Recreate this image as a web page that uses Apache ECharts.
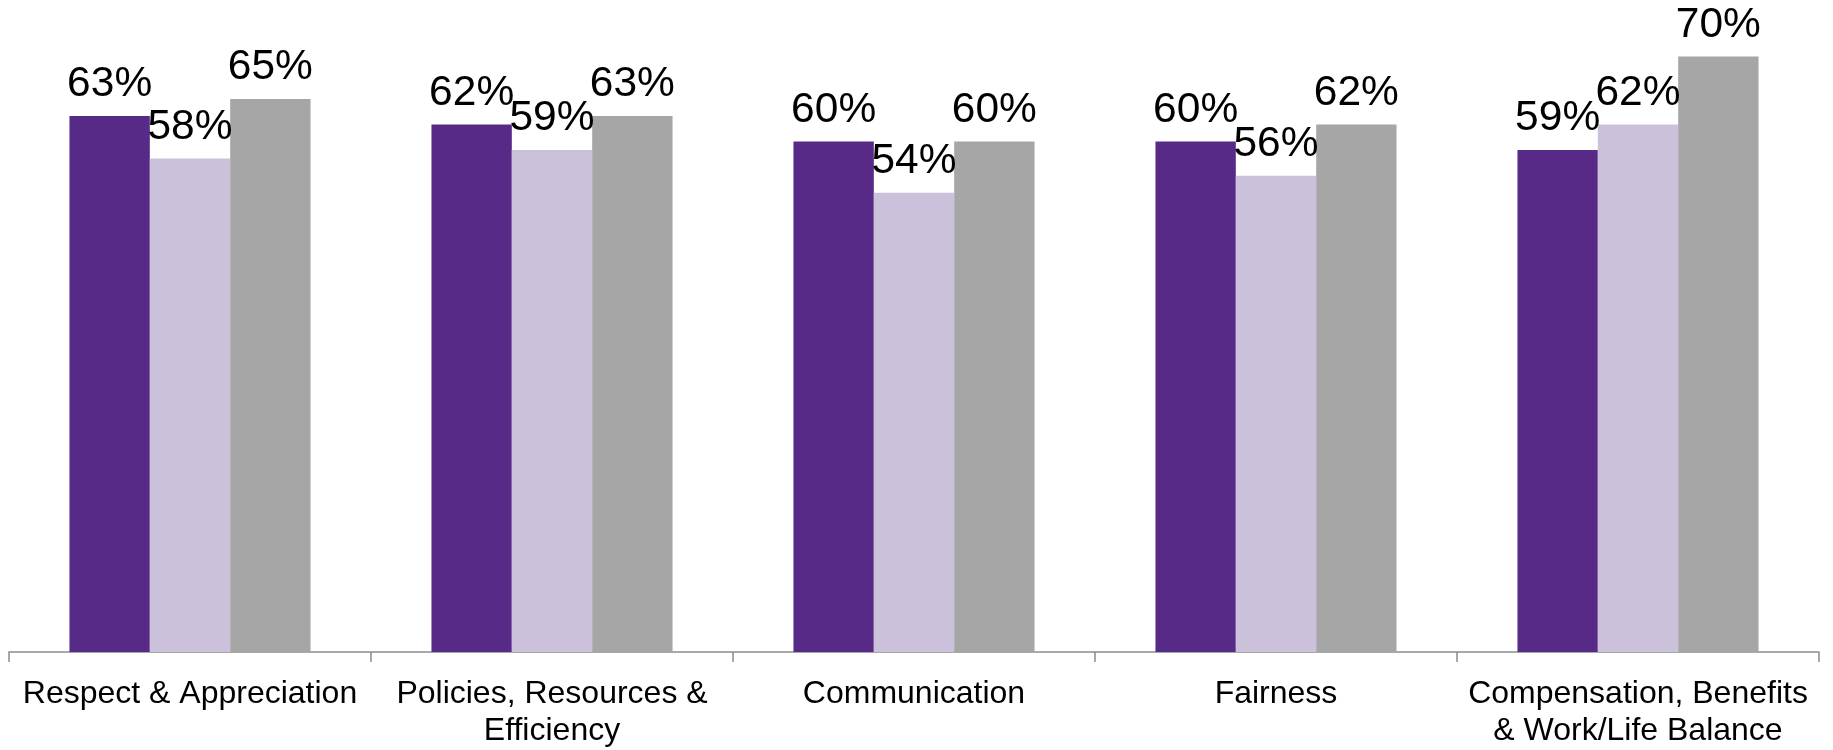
<!DOCTYPE html>
<html>
<head>
<meta charset="utf-8">
<style>
  html, body { margin: 0; padding: 0; background: #ffffff; }
  #chart { width: 1833px; height: 750px; }
</style>
<script src="https://cdn.jsdelivr.net/npm/echarts@6/dist/echarts.min.js"></script>
</head>
<body>
<div id="chart"></div>
<script>
// Survey dimensions shown along the x axis
const categories = [
  'Respect & Appreciation',
  'Policies, Resources &\nEfficiency',
  'Communication',
  'Fairness',
  'Compensation, Benefits\n& Work/Life Balance'
];

// Percent favourable per group
const groupA = [63, 62, 60, 60, 59];
const groupB = [58, 59, 54, 56, 62];
const groupC = [65, 63, 60, 62, 70];

const colors = ['#582A87', '#CBC1DB', '#A6A6A6'];

const labelStyle = {
  show: true,
  position: 'top',
  distance: 10,
  formatter: p => p.value + '%',
  fontFamily: 'Liberation Sans, Arial, sans-serif',
  fontSize: 42.5,
  color: '#000000'
};

function makeSeries(name, data, color) {
  return {
    name: name,
    type: 'bar',
    data: data,
    itemStyle: { color: color },
    label: labelStyle,
    barGap: '0%',
    barCategoryGap: '33.4%',
    animation: false
  };
}

const chart = echarts.init(document.getElementById('chart'), null, { renderer: 'canvas' });
chart.setOption({
  animation: false,
  grid: { left: 9, right: 14, top: 14, bottom: 92, containLabel: false },
  xAxis: {
    type: 'category',
    data: categories,
    axisLine: { lineStyle: { color: '#8C8C8C', width: 1.5 } },
    axisTick: { show: true, length: 10, lineStyle: { color: '#8C8C8C', width: 1.5 } },
    axisLabel: {
      interval: 0,
      margin: 24,
      fontFamily: 'Liberation Sans, Arial, sans-serif',
      fontSize: 32,
      lineHeight: 37,
      color: '#000000'
    }
  },
  yAxis: {
    type: 'value',
    min: 0,
    max: 75,
    show: false,
    splitLine: { show: false }
  },
  series: [
    makeSeries('Group A', groupA, colors[0]),
    makeSeries('Group B', groupB, colors[1]),
    makeSeries('Group C', groupC, colors[2])
  ]
});
</script>
</body>
</html>
